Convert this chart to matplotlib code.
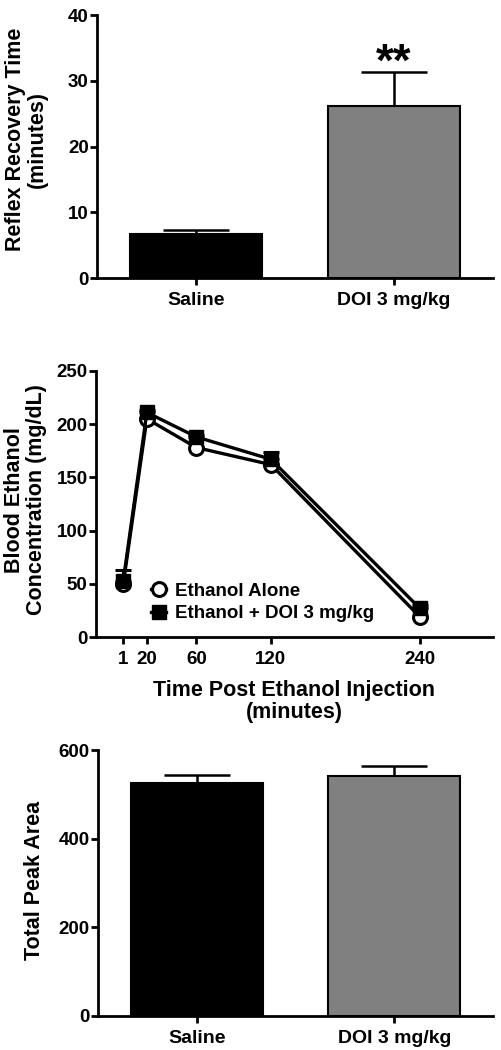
"""
DOI 3 mg/kg vs saline: reflex recovery, blood ethanol time course, total peak area
"""

import matplotlib
matplotlib.use('Agg')
from matplotlib import pyplot as plt

plt.rcParams['font.family'] = ['Liberation Sans', 'DejaVu Sans']
plt.rcParams['font.weight'] = 'bold'

groups = ['Saline', 'DOI 3 mg/kg']
bar_colors = ['black', '#808080']

# panel 1 - reflex recovery time
recovery_mean = [6.7, 26.2]
recovery_sem = [0.6, 5.1]

# panel 2 - blood ethanol
times = [1, 20, 60, 120, 240]
bec_alone = [50, 205, 178, 162, 19]
bec_doi = [53, 211, 188, 167, 27]
bec_doi_sem = [10, 2, 2, 7, 3]

# panel 3 - total peak area
peak_mean = [525, 542]
peak_sem = [18, 22]


def style_axis(ax):
    for side in ['top', 'right']:
        ax.spines[side].set_visible(False)
    for side in ['left', 'bottom']:
        ax.spines[side].set_linewidth(2.0)
    ax.tick_params(width=2.0, length=5, labelsize=13.5, pad=1)


def bar_panel(ax, means, sems, ylim, yticks, ylabel):
    x = [0, 1]
    ax.bar(x, means, width=0.67, color=bar_colors, edgecolor='black', linewidth=1.5, zorder=2)
    ax.errorbar(x, means, yerr=[[0, 0], sems], fmt='none', ecolor='black',
                elinewidth=1.8, capsize=24, capthick=1.8, zorder=1)
    ax.set_xlim(-0.5, 1.5)
    ax.set_ylim(*ylim)
    ax.set_yticks(yticks)
    ax.set_xticks(x)
    ax.set_xticklabels(groups)
    style_axis(ax)
    ax.tick_params(axis='x', labelsize=14, pad=5)
    ax.set_ylabel(ylabel, fontsize=15.5, fontweight='bold', linespacing=1.05)


fig = plt.figure(figsize=(5.01, 10.5), dpi=100)

ax1 = fig.add_axes([0.1936, 0.7352, 0.7904, 0.2505])
bar_panel(ax1, recovery_mean, recovery_sem, (0, 40), [0, 10, 20, 30, 40],
          'Reflex Recovery Time\n(minutes)')
ax1.yaxis.set_label_coords(-0.125, 0.527)
ax1.text(1, recovery_mean[1] + recovery_sem[1] - 0.5, '**', ha='center', va='baseline',
         fontsize=33, fontweight='bold')

ax2 = fig.add_axes([0.1916, 0.3933, 0.7924, 0.2534])
ax2.plot(times, bec_alone, '-o', color='black', lw=2.4, ms=10, mfc='white',
         mec='black', mew=2.2, label='Ethanol Alone', zorder=3)
ax2.errorbar(times, bec_doi, yerr=[[0] * len(times), bec_doi_sem], fmt='none',
             ecolor='black', elinewidth=2.2, capsize=6, capthick=2.2, zorder=4)
ax2.plot(times, bec_doi, '-s', color='black', lw=2.4, ms=9.5, mfc='black', mec='black',
         label='Ethanol + DOI 3 mg/kg', zorder=5)
ax2.set_xlim(-21, 299)
ax2.set_ylim(0, 250)
ax2.set_yticks([0, 50, 100, 150, 200, 250])
ax2.set_xticks(times)
style_axis(ax2)
ax2.tick_params(axis='x', labelsize=13.5, pad=5)
ax2.set_ylabel('Blood Ethanol\nConcentration (mg/dL)', fontsize=15.5, fontweight='bold',
               linespacing=1.05)
ax2.yaxis.set_label_coords(-0.123, 0.515)
ax2.set_xlabel('Time Post Ethanol Injection\n(minutes)', fontsize=15.5, fontweight='bold',
               linespacing=1.05, labelpad=9)
leg = ax2.legend(loc='center left', bbox_to_anchor=(0.115, 0.13), frameon=False,
                 fontsize=13.5, handlelength=0.8, handletextpad=0.5, labelspacing=0.3,
                 borderpad=0)
for t in leg.get_texts():
    t.set_fontweight('bold')

ax3 = fig.add_axes([0.1956, 0.0324, 0.7884, 0.2533])
bar_panel(ax3, peak_mean, peak_sem, (0, 600), [0, 200, 400, 600], 'Total Peak Area')
ax3.yaxis.set_label_coords(-0.134, 0.51)

fig.savefig('out.png', dpi=100)
